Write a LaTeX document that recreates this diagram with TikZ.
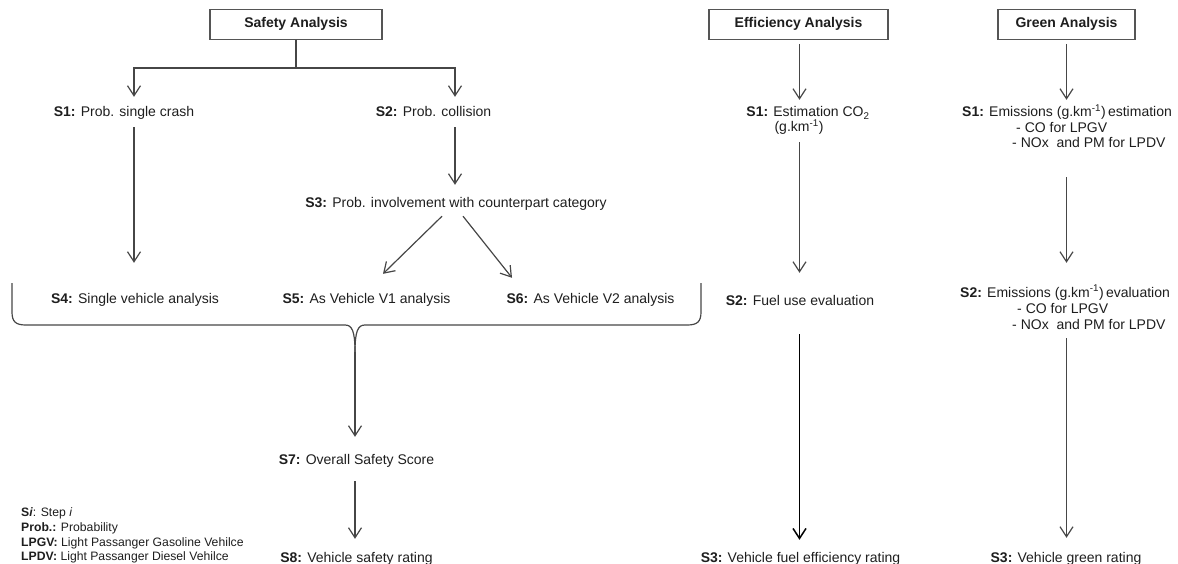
\documentclass[tikz,border=0pt]{standalone}
\usepackage{fontspec}
\setmainfont{Liberation Sans}
\usetikzlibrary{arrows.meta,calc}
\definecolor{linegray}{RGB}{70,70,70}
\definecolor{txt}{RGB}{30,30,30}
\definecolor{boxgray}{RGB}{85,85,85}
\begin{document}
\begin{tikzpicture}[x=1pt,y=-1pt,
  lbl/.style={font=\fontsize{14}{16}\selectfont, text=txt, inner sep=0pt, text height=10pt, text depth=3pt, anchor=base},
  lblw/.style={lbl, anchor=base west},
  leg/.style={font=\fontsize{12.2}{14.7}\selectfont, text=txt, inner sep=0pt, anchor=base west},
  head/.style={draw=boxgray, line width=1.3pt, fill=white, minimum width=#1, minimum height=30pt, inner sep=0pt, font=\fontsize{14}{16}\selectfont\bfseries, text=txt},
  conn/.style={draw=linegray, line width=1.2pt},
  arr/.style={conn, -{Straight Barb[length=10pt,width=13pt]}},
  darr/.style={draw=black, line width=1.5pt, -{Straight Barb[length=10pt,width=13pt]}}
]
\useasboundingbox (0,0) rectangle (1178,564);

% ---------- Safety column ----------
\node[head=172pt] (safety) at (296,24.3) {Safety Analysis};
\coordinate (cS) at (296,68);
\coordinate (cA) at (134,68);
\coordinate (cB) at (455,68);
\coordinate (cM) at (355,0);

\node[lbl] (s1) at (124,117) {\textbf{S1:} Prob. single crash};
\node[lbl] (s2) at (433.5,117) {\textbf{S2:} Prob. collision};
\node[lbl] (s3) at (456,208) {\textbf{S3:} Prob. involvement with counterpart category};
\node[lbl] (s4) at (135,303) {\textbf{S4:} Single vehicle analysis};
\node[lbl] (s5) at (366.5,303) {\textbf{S5:} As Vehicle V1 analysis};
\node[lbl] (s6) at (590.5,303) {\textbf{S6:} As Vehicle V2 analysis};
\node[lbl] (s7) at (356.5,464) {\textbf{S7:} Overall Safety Score};
\node[lbl] (s8) at (356.5,562) {\textbf{S8:} Vehicle safety rating};

\draw[conn] (safety.south) -- (cS);
\draw[arr, shorten >=10pt] (cS) -| (s1.north -| cA);
\draw[arr, shorten >=10pt] (cS) -| (s2.north -| cB);
\draw[arr, shorten <=7pt, shorten >=30pt] (s1.south -| cA) -- (s4.north -| cA);
\draw[arr, shorten <=7pt, shorten >=13pt] (s2.south -| cB) -- (s3.north -| cB);
\draw[arr] ([xshift=-14pt,yshift=-5pt]s3.south) -- ([xshift=16.5pt,yshift=19pt]s5.north);
\draw[arr] ([xshift=7pt,yshift=-5pt]s3.south) -- ([xshift=-78.5pt,yshift=15pt]s6.north);

% brace
\coordinate (bt) at (355,352);
\draw[conn, line join=round]
  (12,283) -- (12,312) .. controls (12,322) and (16,325) .. (26,325)
  -- (345,325) .. controls (352,325) and (355,331) .. (bt);
\draw[conn, line join=round]
  (701,283) -- (701,312) .. controls (701,322) and (697,325) .. (687,325)
  -- (365,325) .. controls (358,325) and (355,331) .. (bt);
\draw[arr, shorten >=17pt] (bt) -- (s7.north -| bt);
\draw[arr, shorten <=14pt, shorten >=13pt] (s7.south -| cM) -- (s8.north -| cM);

% legend
\node[leg] (lg1) at (21,516) {\textbf{S\textit{i}}: Step \textit{i}};
\node[leg] (lg2) at (21,531) {\textbf{Prob.:} Probability};
\node[leg] (lg3) at (21,546) {\textbf{LPGV:} Light Passanger Gasoline Vehilce};
\node[leg] (lg4) at (21,560) {\textbf{LPDV:} Light Passanger Diesel Vehilce};

% ---------- Efficiency column ----------
\node[head=179pt] (eff) at (798.5,24.3) {Efficiency Analysis};
\coordinate (cE) at (799.5,0);
\node[lbl] (es1a) at (808,117) {\textbf{S1:} Estimation CO\textsubscript{2}};
\node[lbl] (es1b) at (799,132) {(g.km\textsuperscript{-1})};
\node[lbl] (es2) at (800,305) {\textbf{S2:} Fuel use evaluation};
\node[lbl] (es3) at (800.5,562) {\textbf{S3:} Vehicle fuel efficiency rating};

\draw[arr, shorten <=4pt, shorten >=7pt] (eff.south -| cE) -- (es1a.north -| cE);
\draw[arr, shorten <=7pt, shorten >=22pt] (es1b.south -| cE) -- (es2.north -| cE);
\draw[darr, shorten <=26pt, shorten >=12pt] (es2.south -| cE) -- (es3.north -| cE);

% ---------- Green column ----------
\node[head=137pt] (green) at (1066.5,24.3) {Green Analysis};
\coordinate (cG) at (1066.5,0);
\node[lblw] (gs1a) at (962,117) {\textbf{S1:} Emissions (g.km\textsuperscript{-1})\,estimation};
\node[lblw] (gs1b) at (1016,133) {- CO for LPGV};
\node[lblw] (gs1c) at (1012,148) {- NOx\ \ and PM for LPDV};
\node[lblw] (gs2a) at (960,297) {\textbf{S2:} Emissions (g.km\textsuperscript{-1})\,evaluation};
\node[lblw] (gs2b) at (1017,313) {- CO for LPGV};
\node[lblw] (gs2c) at (1012,329) {- NOx\ \ and PM for LPDV};
\node[lbl] (gs3) at (1066,562) {\textbf{S3:} Vehicle green rating};

\draw[arr, shorten <=4pt, shorten >=7pt] (green.south -| cG) -- (gs1a.north -| cG);
\draw[arr, shorten <=26pt, shorten >=24pt] (gs1c.south -| cG) -- (gs2a.north -| cG);
\draw[arr, shorten <=6pt, shorten >=14pt] (gs2c.south -| cG) -- (gs3.north -| cG);
\end{tikzpicture}
\end{document}
